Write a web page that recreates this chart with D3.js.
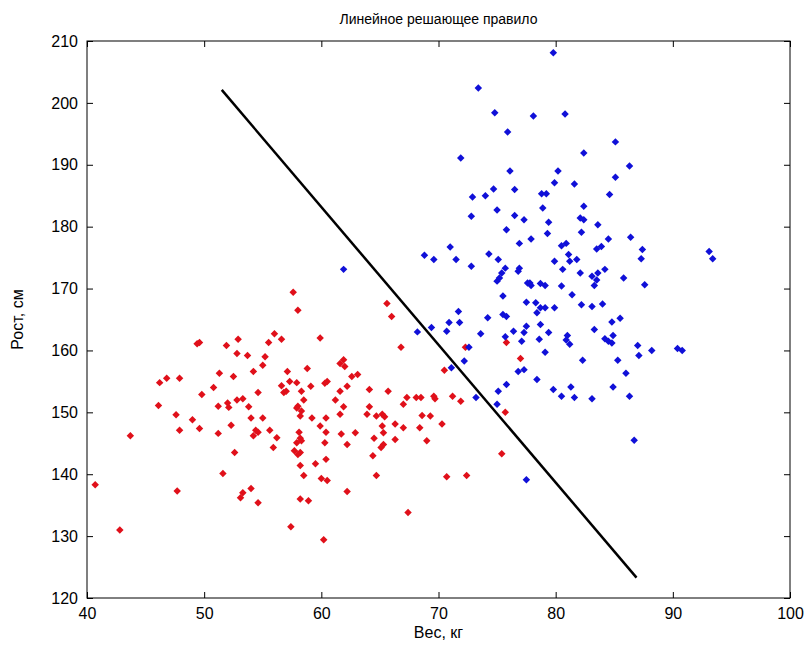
<!DOCTYPE html>
<html><head><meta charset="utf-8">
<script src="https://cdn.jsdelivr.net/npm/d3@7"></script>
<style>body{margin:0;background:#fff}text{font-family:"Liberation Sans",Arial,sans-serif}</style>
</head><body><svg id="c" width="805" height="654"></svg>
<script>
const xTicks=[40,50,60,70,80,90,100];
const yTicks=[120,130,140,150,160,170,180,190,200,210];
const redW=[49.4,49.6,51.9,52.9,52.8,46.2,46.8,47.9,51.3,52.5,50.8,49.8,46.1,51.2,52.0,52.1,52.8,47.6,49.0,
47.9,49.6,51.2,52.3,43.7,52.6,51.6,40.7,47.7,53.1,42.8,
57.6,58.0,53.7,56.0,55.5,56.6,59.9,55.2,55.0,54.2,57.1,58.8,57.3,57.9,56.6,56.8,57.0,59.1,58.3,54.6,60.5,60.3,61.6,61.9,62.0,62.6,63.1,62.2,61.6,64.1,53.3,53.8,58.5,58.0,58.3,57.9,61.2,61.9,61.6,64.1,54.0,55.0,59.2,60.4,63.9,64.7,
54.4,54.6,54.2,55.6,56.2,55.9,58.2,58.1,59.9,60.4,61.7,62.9,64.5,58.2,57.9,58.3,60.3,62.2,57.7,58.0,58.2,60.4,59.5,58.2,64.4,64.7,58.5,60.0,60.5,54.0,53.3,54.6,62.2,58.2,58.9,57.4,60.2,
65.6,66.0,66.8,72.3,70.5,65.7,67.3,68.1,68.5,69.6,69.7,71.2,71.9,67.0,65.2,65.4,68.6,69.3,75.7,75.8,77.0,
65.2,65.3,65.3,65.1,66.3,67.0,68.4,70.3,66.3,69.0,70.7,72.4,67.4,75.4];
const redH=[161.1,161.3,160.8,161.8,159.5,154.8,155.5,155.5,156.3,155.8,154.0,152.9,151.1,151.0,151.5,150.8,152.0,149.6,148.8,
147.1,147.4,146.6,147.9,146.2,143.5,140.1,138.3,137.3,136.2,131.0,
169.4,166.5,159.2,162.7,161.3,161.8,162.0,159.0,157.6,156.6,156.6,157.1,155.0,154.8,154.3,153.2,153.4,154.2,153.4,153.2,155.0,154.7,157.9,158.5,157.4,155.8,156.1,154.2,153.4,153.7,152.2,150.9,152.0,151.0,150.2,150.7,152.0,150.9,149.7,150.9,149.1,149.1,149.1,149.1,149.7,149.4,
147.1,146.8,146.2,147.1,145.9,144.3,149.4,146.8,147.8,146.8,146.5,146.7,145.8,145.8,145.1,145.4,145.1,144.8,143.8,143.2,143.5,142.4,141.7,141.4,143.0,139.8,139.8,139.3,139.0,137.7,137.0,135.4,137.2,136.0,135.7,131.5,129.4,
167.6,165.5,160.5,160.5,156.8,153.4,152.4,152.4,152.4,152.6,152.2,152.6,151.8,151.3,149.7,149.3,149.5,149.4,150.0,161.3,158.7,
147.8,146.7,144.8,144.3,148.1,147.5,147.5,148.1,145.6,145.4,139.6,139.8,133.8,143.3];
const blueW=[75.0,75.5,77.5,77.6,71.7,70.9,71.8,69.4,68.2,74.2,75.5,75.8,73.6,70.7,76.4,77.3,77.5,75.7,77.1,72.6,72.2,71.1,76.8,77.3,75.8,75.1,73.2,75.0,
77.5,
79.8,73.4,74.8,78.1,80.8,75.9,71.9,82.4,76.1,80.2,79.9,81.6,74.7,76.5,
85.1,86.3,85.1,
72.9,72.8,68.8,69.6,71.0,71.5,72.8,61.9,
74.0,78.8,79.2,75.0,76.5,77.3,78.9,82.4,79.4,82.1,82.4,83.6,75.8,79.3,82.2,77.9,76.9,80.5,80.9,83.5,74.3,75.1,79.9,81.1,81.2,81.8,80.6,82.1,75.7,75.4,75.2,76.9,76.8,83.1,83.6,77.8,77.9,78.7,79.1,80.5,83.3,78.3,78.7,79.1,79.9,81.4,82.2,83.1,
84.6,84.5,86.4,83.9,87.4,87.3,93.1,93.4,84.2,83.5,85.8,87.6,84.0,
78.4,78.7,79.4,78.6,81.0,80.9,81.2,83.3,84.8,85.5,84.2,84.5,84.8,84.9,87.0,87.1,88.2,90.4,90.8,79.1,82.3,85.3,86.0,78.4,79.8,80.5,81.3,81.6,83.1,84.9,86.3,86.7];
const blueH=[171.2,168.8,167.8,170.9,166.3,164.5,164.5,163.7,163.0,165.3,165.8,165.5,162.7,163.1,163.1,162.9,163.9,162.2,161.5,160.5,158.3,157.2,156.6,156.9,154.5,153.4,152.4,151.3,
139.1,
208.1,202.4,198.4,197.9,198.2,195.3,191.1,191.9,189.0,189.0,187.1,186.9,186.1,186.0,
193.7,189.8,188.0,
184.8,181.7,175.4,174.7,176.7,174.7,173.6,173.1,
185.0,185.3,185.3,182.7,181.8,181.1,183.0,183.3,180.7,181.4,181.1,180.3,179.5,178.9,179.1,178.0,177.3,176.9,177.3,176.4,175.6,174.7,174.4,175.5,174.4,174.7,173.1,172.5,173.3,172.5,171.7,173.3,172.8,172.0,172.5,170.9,170.5,170.8,170.5,170.4,170.5,167.7,166.9,166.9,166.9,169.0,167.4,167.1,
185.2,178.0,178.3,176.8,176.3,174.8,176.0,174.8,173.1,171.4,171.7,170.6,167.5,
166.1,164.2,162.9,161.8,162.4,161.7,161.0,163.4,164.6,165.2,161.9,161.5,161.2,162.4,160.8,159.2,160.0,160.3,160.0,159.7,158.4,158.4,156.3,155.3,153.7,152.6,154.1,152.4,152.2,154.1,152.6,145.5];
const lineW=[51.5,86.9];
const lineH=[202.1,123.3];

const svg=d3.select("#c");
const L=87,R=790,T=41,B=598;
const x=d3.scaleLinear().domain([40,100]).range([L,R]);
const y=d3.scaleLinear().domain([120,210]).range([B,T]);

const ax=(g)=>{g.selectAll("path").remove();g.selectAll("line").attr("stroke","#000");};
svg.append("g").attr("transform",`translate(0,${B})`)
 .call(d3.axisBottom(x).tickValues(xTicks).tickSizeInner(-6).tickSizeOuter(0).tickPadding(10))
 .call(ax).selectAll("text").attr("font-size",16).attr("fill","#000");
svg.append("g").attr("transform",`translate(0,${T})`)
 .call(d3.axisTop(x).tickValues(xTicks).tickSizeInner(-6).tickSizeOuter(0).tickFormat(""))
 .call(ax);
svg.append("g").attr("transform",`translate(${L},0)`)
 .call(d3.axisLeft(y).tickValues(yTicks).tickSizeInner(-6).tickSizeOuter(0).tickPadding(9))
 .call(ax).selectAll("text").attr("font-size",16).attr("fill","#000");
svg.append("g").attr("transform",`translate(${R},0)`)
 .call(d3.axisRight(y).tickValues(yTicks).tickSizeInner(-6).tickSizeOuter(0).tickFormat(""))
 .call(ax);
svg.append("rect").attr("x",L).attr("y",T).attr("width",R-L).attr("height",B-T)
 .attr("fill","none").attr("stroke","#000").attr("stroke-width",1);

const sym=d3.symbol(d3.symbolSquare,28);
function pts(W,H,col){
  svg.append("g").selectAll("path").data(W.map((w,i)=>[w,H[i]])).join("path")
   .attr("d",sym).attr("fill",col)
   .attr("transform",d=>`translate(${x(d[0])},${y(d[1])}) rotate(45)`);
}
pts(redW,redH,"#e0101a");
pts(blueW,blueH,"#1010d8");

svg.append("path").datum(lineW.map((w,i)=>[w,lineH[i]]))
 .attr("d",d3.line().x(d=>x(d[0])).y(d=>y(d[1])))
 .attr("stroke","#000").attr("stroke-width",2.5).attr("fill","none");

svg.append("text").attr("x",(L+R)/2).attr("y",24).attr("text-anchor","middle").attr("font-size",14).text("Линейное решающее правило");
svg.append("text").attr("x",(L+R)/2).attr("y",638).attr("text-anchor","middle").attr("font-size",16).text("Вес, кг");
svg.append("text").attr("transform",`translate(23,${(T+B)/2}) rotate(-90)`).attr("text-anchor","middle").attr("font-size",16).text("Рост, см");
</script></body></html>
